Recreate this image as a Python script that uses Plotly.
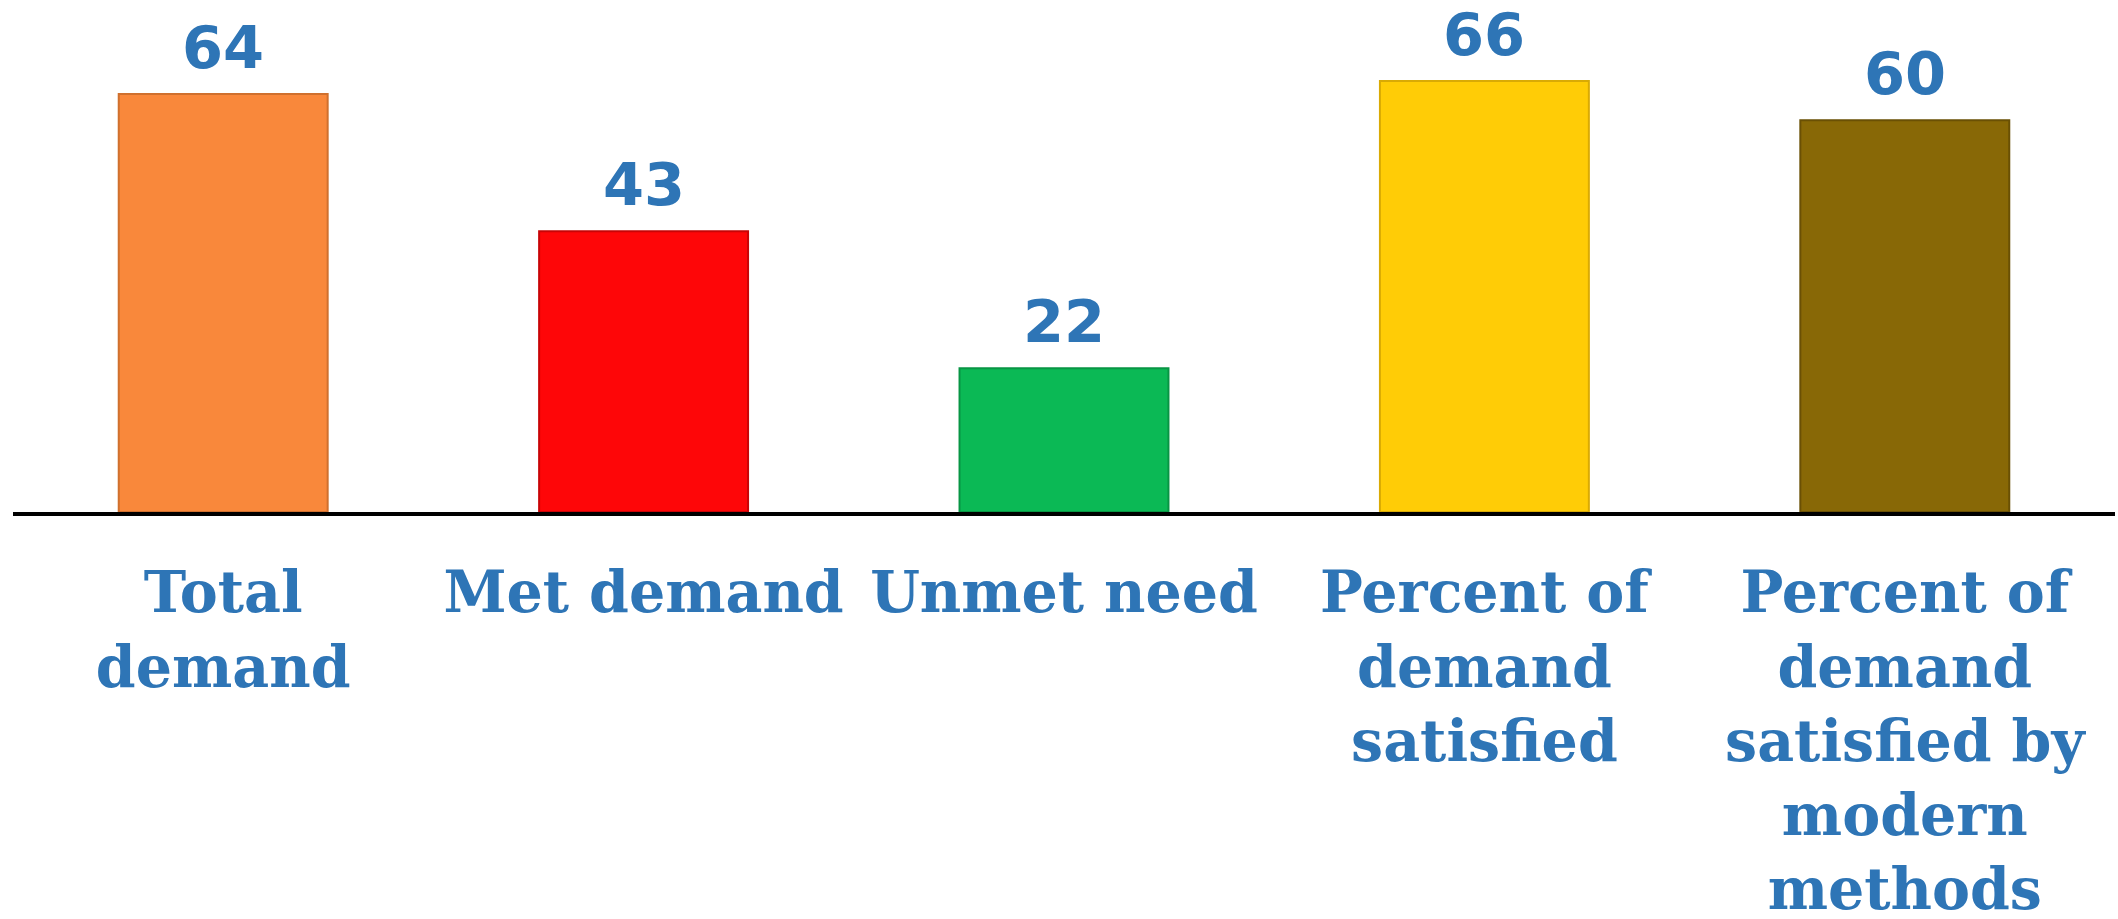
import plotly.graph_objects as go

categories = ["Total<br>demand", "Met demand", "Unmet need",
              "Percent of<br>demand<br>satisfied",
              "Percent of<br>demand<br>satisfied by<br>modern<br>methods"]
values = [64, 43, 22, 66, 60]
bar_colors = ["#F9883B", "#FE0608", "#0BB955", "#FFCC06", "#886806"]
edge_colors = ["#D0702E", "#C80406", "#089544", "#D9AA04", "#6A5004"]

label_blue = "#2E75B6"

fig = go.Figure()
fig.add_trace(go.Bar(
    x=categories, y=values,
    marker=dict(color=bar_colors, line=dict(color=edge_colors, width=2)),
    width=0.497,
    hoverinfo="skip",
))

for c, v in zip(categories, values):
    fig.add_annotation(
        x=c, y=v, text=str(v), showarrow=False,
        yanchor="bottom", yshift=10,
        font=dict(family="DejaVu Sans", size=59, color=label_blue, weight="bold"),
    )

fig.update_layout(
    width=2118, height=919,
    margin=dict(l=13, r=3, t=0, b=407, autoexpand=False),
    paper_bgcolor="white", plot_bgcolor="white",
    showlegend=False,
    xaxis=dict(
        automargin=False,
        showline=True, linecolor="black", linewidth=4,
        showgrid=False, zeroline=False,
        ticks="outside", ticklen=28, tickcolor="rgba(0,0,0,0)",
        tickangle=0,
        tickfont=dict(family="DejaVu Serif", size=57,
                      color=label_blue, weight="bold"),
    ),
    yaxis=dict(automargin=False, range=[0, 78.4], visible=False,
               showgrid=False, zeroline=False),
)

fig.write_html("out.html", config={"displayModeBar": False},
               post_script="document.body.style.margin='0';document.body.style.overflow='hidden';")
